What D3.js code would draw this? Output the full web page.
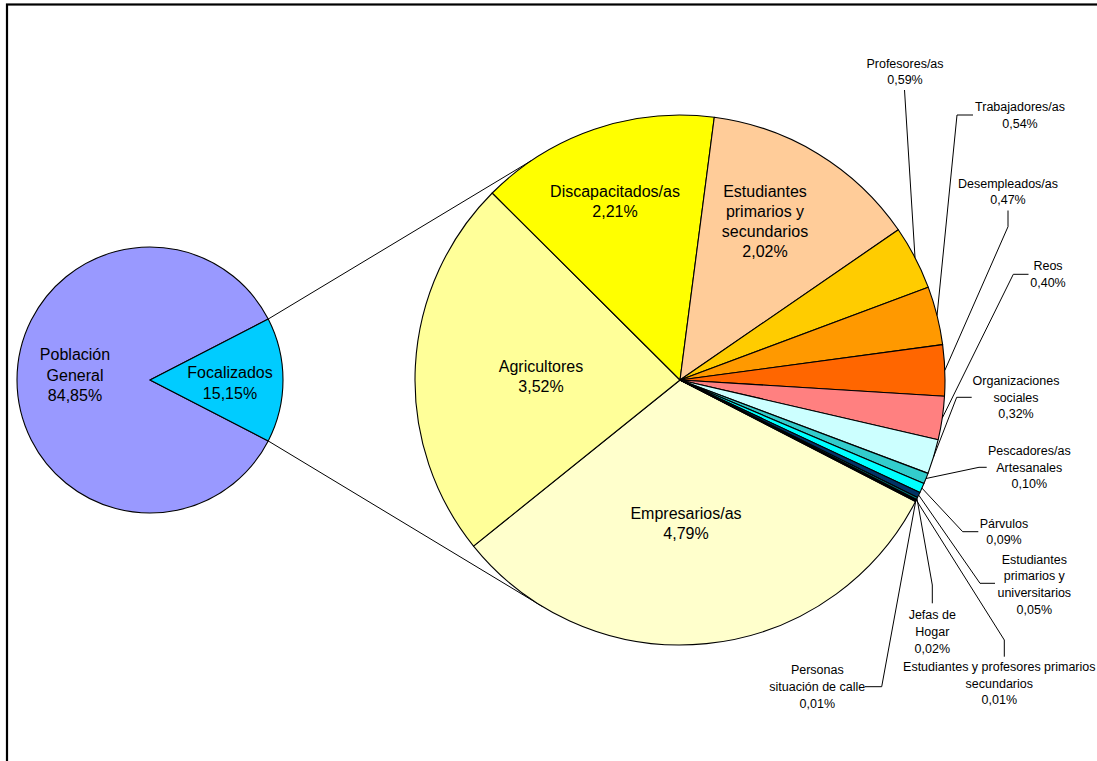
<!DOCTYPE html>
<html>
<head>
<meta charset="utf-8">
<script src="https://cdn.jsdelivr.net/npm/d3@7"></script>
<style>
  html, body { margin: 0; padding: 0; background: #fff; }
  svg { display: block; }
  text { font-family: "Liberation Sans", Arial, sans-serif; fill: #000; }
</style>
</head>
<body>
<svg id="chart" width="1097" height="761"></svg>
<script>
// Primary pie: whole population split
const mainCategories = ["Población General", "Focalizados"];
const mainValues = [84.85, 15.15];

// Secondary pie: breakdown of the focalized groups (% of total population)
const groupCategories = [
  "Empresarios/as",
  "Agricultores",
  "Discapacitados/as",
  "Estudiantes primarios y secundarios",
  "Profesores/as",
  "Trabajadores/as",
  "Desempleados/as",
  "Reos",
  "Organizaciones sociales",
  "Pescadores/as Artesanales",
  "Párvulos",
  "Estudiantes primarios y universitarios",
  "Jefas de Hogar",
  "Estudiantes y profesores primarios secundarios",
  "Personas situación de calle"
];
const groupValues = [4.79, 3.52, 2.21, 2.02, 0.59, 0.54, 0.47, 0.40, 0.32, 0.10, 0.09, 0.05, 0.02, 0.01, 0.01];

// Fill colours
const mainColors = ["#9999FF", "#00CCFF"];
const groupColors = ["#FFFFCC", "#FFFF99", "#FFFF00", "#FFCC99", "#FFCC00", "#FF9900", "#FF6600",
                     "#FF8080", "#CCFFFF", "#33CCCC", "#00FFFF", "#003366", "#008080", "#333399", "#000080"];

// Label placement (text lines, first-line centre, optional leader elbow points)
const mainLabelLayout = {
  "Población General": { x: 75, y: 354.5, lines: ["Población", "General"] },
  "Focalizados": { x: 230, y: 372.5, lines: ["Focalizados"] }
};
const groupLabelLayout = {
  "Empresarios/as": { inside: true, x: 686, y: 513.5, lines: ["Empresarios/as"] },
  "Agricultores": { inside: true, x: 541, y: 366, lines: ["Agricultores"] },
  "Discapacitados/as": { inside: true, x: 615, y: 191, lines: ["Discapacitados/as"] },
  "Estudiantes primarios y secundarios": { inside: true, x: 765, y: 191, lines: ["Estudiantes", "primarios y", "secundarios"] },
  "Profesores/as": { x: 905, y: 63.3, lines: ["Profesores/as"], leader: [[904.5, 90]] },
  "Trabajadores/as": { x: 1020, y: 106.7, lines: ["Trabajadores/as"], leader: [[973, 115], [957, 115]] },
  "Desempleados/as": { x: 1008, y: 183.3, lines: ["Desempleados/as"], leader: [[1008, 210.5], [1008, 226.7]] },
  "Reos": { x: 1048, y: 266, lines: ["Reos"], leader: [[1028.5, 274.3], [1013.3, 274.3]] },
  "Organizaciones sociales": { x: 1016, y: 380.7, lines: ["Organizaciones", "sociales"], leader: [[971.7, 397.3], [956.7, 397.3]] },
  "Pescadores/as Artesanales": { x: 1029.3, y: 450.7, lines: ["Pescadores/as", "Artesanales"], leader: [[986.7, 467.3], [979, 467.3]] },
  "Párvulos": { x: 1004, y: 523.3, lines: ["Párvulos"], leader: [[978.3, 531.7], [962.7, 531.7]] },
  "Estudiantes primarios y universitarios": { x: 1034.3, y: 559.3, lines: ["Estudiantes", "primarios y", "universitarios"], leader: [[995, 583.3], [980, 583.3]] },
  "Jefas de Hogar": { x: 932.3, y: 615, lines: ["Jefas de", "Hogar"], leader: [[932.3, 603.3], [932.3, 585]] },
  "Estudiantes y profesores primarios secundarios": { x: 999.3, y: 666.7, lines: ["Estudiantes y profesores primarios", "secundarios"], leader: [[1004.3, 656.7], [1004.3, 640]] },
  "Personas situación de calle": { x: 817.3, y: 670, lines: ["Personas", "situación de calle"], leader: [[865, 686.7], [881.7, 686.7]] }
};

const deg = Math.PI / 180;
const fmtPct = v => d3.format(".2f")(v).replace(".", ",") + "%";

const svg = d3.select("#chart");

// Outer frame of the chart area
svg.append("rect")
  .attr("x", 7).attr("y", 4.5)
  .attr("width", 1200).attr("height", 900)
  .attr("fill", "none").attr("stroke", "#000").attr("stroke-width", 2.2);

// Geometry
const main = { cx: 150, cy: 380, r: 133 };
const group = { cx: 680, cy: 380, r: 265 };
const mainStart = 117.27 * deg;
const groupStart = 117.29 * deg;

const pointAt = (c, r, a) => [c.cx + r * Math.sin(a), c.cy - r * Math.cos(a)];

// Primary pie
const mainPie = d3.pie().sort(null).value(d => d.value)
  .startAngle(mainStart).endAngle(mainStart + 2 * Math.PI);
const mainArcs = mainPie(mainCategories.map((c, i) => ({ name: c, value: mainValues[i], color: mainColors[i] })));
const mainArc = d3.arc().innerRadius(0).outerRadius(main.r);

const gMain = svg.append("g").attr("transform", `translate(${main.cx},${main.cy})`);
gMain.selectAll("path").data(mainArcs).join("path")
  .attr("d", mainArc)
  .attr("fill", d => d.data.color)
  .attr("stroke", "#000").attr("stroke-width", 1.1).attr("stroke-linejoin", "round");

// Connector lines from the focalized slice to the secondary pie
const foc = mainArcs[1];
const focTop = pointAt(main, main.r, foc.startAngle);
const focBottom = pointAt(main, main.r, foc.endAngle);
const secTop = pointAt(group, group.r, -34.2 * deg);
const secBottom = pointAt(group, group.r, 211.1 * deg);
svg.append("line")
  .attr("x1", focTop[0]).attr("y1", focTop[1]).attr("x2", secTop[0]).attr("y2", secTop[1])
  .attr("stroke", "#000").attr("stroke-width", 1);
svg.append("line")
  .attr("x1", focBottom[0]).attr("y1", focBottom[1]).attr("x2", secBottom[0]).attr("y2", secBottom[1])
  .attr("stroke", "#000").attr("stroke-width", 1);

// Secondary pie
const groupPie = d3.pie().sort(null).value(d => d.value)
  .startAngle(groupStart).endAngle(groupStart + 2 * Math.PI);
const groupArcs = groupPie(groupCategories.map((c, i) => ({ name: c, value: groupValues[i], color: groupColors[i] })));
const groupArc = d3.arc().innerRadius(0).outerRadius(group.r);

const gGroup = svg.append("g").attr("transform", `translate(${group.cx},${group.cy})`);
gGroup.selectAll("path").data(groupArcs).join("path")
  .attr("d", groupArc)
  .attr("fill", d => d.data.color)
  .attr("stroke", "#000").attr("stroke-width", 1.1).attr("stroke-linejoin", "round");

// Label helper
function drawLabel(x, y, lines, size, spacing) {
  const t = svg.append("text")
    .attr("text-anchor", "middle")
    .style("font-size", size + "px");
  lines.forEach((ln, i) => {
    t.append("tspan").attr("x", x).attr("y", y + i * spacing).attr("dy", "0.35em").text(ln);
  });
}

// Primary pie labels
mainArcs.forEach(a => {
  const L = mainLabelLayout[a.data.name];
  drawLabel(L.x, L.y, L.lines.concat([fmtPct(a.data.value)]), 16, 20.5);
});

// Secondary pie labels and leader lines
const line = d3.line();
groupArcs.forEach(a => {
  const L = groupLabelLayout[a.data.name];
  const text = L.lines.concat([fmtPct(a.data.value)]);
  if (L.inside) {
    drawLabel(L.x, L.y, text, 16, 20);
  } else {
    const mid = (a.startAngle + a.endAngle) / 2;
    const edge = pointAt(group, group.r, mid);
    svg.append("path")
      .attr("d", line(L.leader.concat([edge])))
      .attr("fill", "none").attr("stroke", "#000").attr("stroke-width", 1);
    drawLabel(L.x, L.y, text, 12.5, 16.7);
  }
});
</script>
</body>
</html>
